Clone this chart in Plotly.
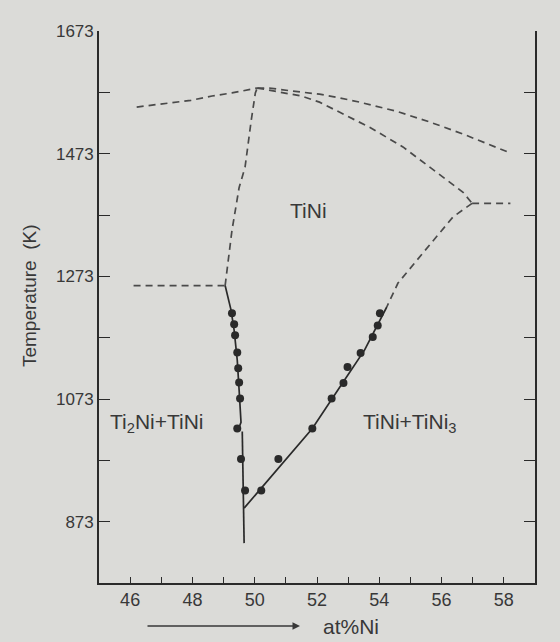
import plotly.graph_objects as go

# ---- data (at% Ni, temperature K) ----
liq_left_x = [46.21, 47.24, 47.95, 48.63, 49.27, 50.08]
liq_left_y = [1549, 1556, 1560, 1567, 1572, 1580]

liq_right_x = [50.08, 50.47, 51.21, 52.08, 52.63, 53.37, 54.56, 55.60, 56.69, 57.34, 58.21]
liq_right_y = [1580, 1580, 1575, 1570, 1565, 1557, 1542, 1525, 1505, 1492, 1474]

sol_right_x = [50.08, 50.89, 51.50, 52.08, 52.66, 53.69, 54.76, 55.63, 56.27, 56.69, 56.98]
sol_right_y = [1580, 1573, 1567, 1557, 1542, 1516, 1484, 1451, 1427, 1410, 1392]

peri_x = [56.98, 58.21]
peri_y = [1392, 1392]

upper_right_x = [56.98, 56.37, 55.40, 54.60, 54.24]
upper_right_y = [1392, 1370, 1311, 1262, 1223]

left_dash_x = [49.05, 49.11, 49.27, 49.50, 49.69, 49.89, 50.02, 50.08]
left_dash_y = [1258, 1283, 1348, 1418, 1451, 1528, 1572, 1580]

eut_x = [46.11, 49.05]
eut_y = [1258, 1258]

left_solid_x = [49.05, 49.24, 49.34, 49.44, 49.50, 49.55, 49.56, 49.50]
left_solid_y = [1258, 1218, 1185, 1136, 1087, 1055, 1035, 1027]

left_vert_x = [49.60, 49.66]
left_vert_y = [1020, 838]

right_solid_x = [49.66, 50.79, 51.85, 52.82, 53.53, 54.24]
right_solid_y = [895, 962, 1025, 1099, 1153, 1223]

pts_left_x = [49.27, 49.34, 49.37, 49.44, 49.47, 49.50, 49.53, 49.44, 49.56, 49.69]
pts_left_y = [1213, 1195, 1177, 1149, 1123, 1100, 1074, 1025, 975, 924]

pts_right_x = [50.21, 50.76, 51.85, 52.47, 52.85, 52.98, 53.40, 53.79, 53.95, 54.02]
pts_right_y = [924, 975, 1025, 1074, 1099, 1125, 1148, 1174, 1193, 1213]

y_ticks = [873, 1073, 1273, 1473, 1673]
y_minor = [973, 1173, 1373, 1573]
x_ticks = [46, 48, 50, 52, 54, 56, 58]
x_minor = [47, 49, 51, 53, 55, 57]

BG = "#dbdbd8"
INK = "#2a2a2a"
DASHC = "#4a4a4a"
TXT = "#383838"
FONT = "Liberation Sans, Arial, sans-serif"

fig = go.Figure()

dash_style = dict(color=DASHC, width=1.7, dash="7px,5px")
for xs, ys in [(liq_left_x, liq_left_y), (liq_right_x, liq_right_y),
               (sol_right_x, sol_right_y), (peri_x, peri_y),
               (upper_right_x, upper_right_y), (left_dash_x, left_dash_y),
               (eut_x, eut_y)]:
    fig.add_trace(go.Scatter(x=xs, y=ys, mode="lines", line=dash_style,
                             hoverinfo="skip", showlegend=False))

solid_style = dict(color=INK, width=1.7)
for xs, ys in [(left_solid_x, left_solid_y), (left_vert_x, left_vert_y),
               (right_solid_x, right_solid_y)]:
    fig.add_trace(go.Scatter(x=xs, y=ys, mode="lines", line=solid_style,
                             hoverinfo="skip", showlegend=False))

fig.add_trace(go.Scatter(x=pts_left_x + pts_right_x, y=pts_left_y + pts_right_y,
                         mode="markers", marker=dict(color=INK, size=8),
                         showlegend=False))

fig.add_annotation(x=51.73, y=1381, xref="x", yref="y", text="TiNi",
                   showarrow=False, font=dict(size=21, color=TXT, family=FONT))
fig.add_annotation(x=46.87, y=1034, xref="x", yref="y", text="Ti<sub>2</sub>Ni+TiNi",
                   showarrow=False, font=dict(size=21, color=TXT, family=FONT))
fig.add_annotation(x=54.98, y=1034, xref="x", yref="y", text="TiNi+TiNi<sub>3</sub>",
                   showarrow=False, font=dict(size=21, color=TXT, family=FONT))

# axis titles
fig.add_annotation(x=-0.158, y=0.52, xref="paper", yref="paper",
                   xanchor="center", yanchor="middle", text="Temperature  (K)",
                   textangle=-90, showarrow=False,
                   font=dict(size=19, color=TXT, family=FONT))
fig.add_annotation(x=0.578, y=-0.078, xref="paper", yref="paper",
                   xanchor="center", yanchor="middle", text="at%Ni",
                   showarrow=False, font=dict(size=21, color=TXT, family=FONT))
fig.add_annotation(x=0.461, y=-0.078, xref="paper", yref="paper", text="",
                   showarrow=True, ax=-154, ay=0, axref="pixel", ayref="pixel",
                   arrowhead=2, arrowsize=1, arrowwidth=1.5, arrowcolor=TXT)

fig.update_xaxes(range=[45, 59], showgrid=False, zeroline=False,
                 showline=True, linecolor=INK, linewidth=1.7,
                 tickmode="array", tickvals=x_ticks, ticks="inside", ticklen=6,
                 tickwidth=1.3, tickcolor=INK,
                 minor=dict(tickmode="array", tickvals=x_minor, ticks="inside",
                            ticklen=6, tickwidth=1.3, tickcolor=INK),
                 tickfont=dict(size=18, color=TXT, family=FONT))
fig.update_yaxes(range=[773, 1673], showgrid=False, zeroline=False,
                 showline=True, linecolor=INK, linewidth=1.7, mirror="ticks",
                 tickmode="array", tickvals=y_ticks, ticks="inside", ticklen=11,
                 tickwidth=1.3, tickcolor=INK,
                 minor=dict(tickmode="array", tickvals=y_minor, ticks="inside",
                            ticklen=11, tickwidth=1.3, tickcolor=INK),
                 tickfont=dict(size=17, color=TXT, family=FONT))

fig.update_layout(width=560, height=642,
                  margin=dict(l=99, r=25, t=31, b=59),
                  paper_bgcolor=BG, plot_bgcolor=BG,
                  font=dict(family=FONT))

fig.write_html("out.html")
